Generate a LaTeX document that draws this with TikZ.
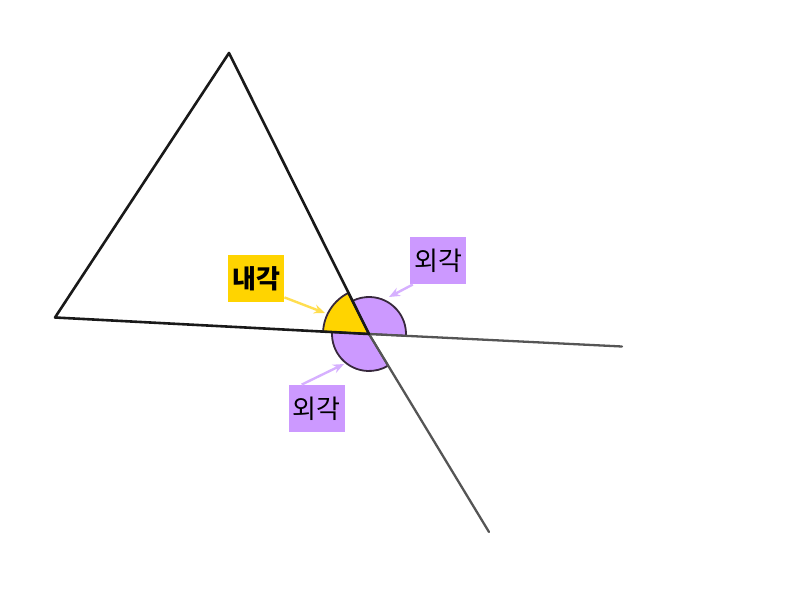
\documentclass[tikz,border=0pt]{standalone}
\usepackage{fontspec}
\newfontfamily\kr{Noto Sans CJK KR}
\usetikzlibrary{arrows.meta}
\definecolor{angyellow}{RGB}{255,212,0}
\definecolor{angpurple}{RGB}{204,153,255}
\definecolor{arrpurple}{RGB}{214,176,255}
\definecolor{arryellow}{RGB}{255,222,80}
\definecolor{outline}{RGB}{55,40,60}
\definecolor{extgray}{RGB}{85,85,85}
\tikzset{
  tri/.style={line width=2.6pt, black!90, line join=round, line cap=round},
  ext/.style={line width=2.3pt, extgray, line cap=round},
  sector/.style={line width=1.8pt, draw=outline, line join=round},
  lbl/.style={font=\kr\fontsize{26}{28}\selectfont, inner sep=0pt, minimum width=56pt, minimum height=47pt, text=black},
  pointer/.style={line width=2.4pt, -{Stealth[length=11pt,width=9pt]}}
}
\begin{document}
\begin{tikzpicture}[x=1pt,y=1pt]
\useasboundingbox (0,0) rectangle (800,598);
\coordinate (A) at (55,280.5);
\coordinate (B) at (229,545);
\coordinate (C) at (369,264);
\coordinate (D) at (622,251.5);
\coordinate (E) at (489,66);
% sectors
\filldraw[sector, fill=angyellow] (C) -- ++(116.5:46) arc[start angle=116.5, end angle=177, radius=46] -- cycle;
\filldraw[sector, fill=angpurple] (C) -- ++(-2.8:37) arc[start angle=-2.8, end angle=116.5, radius=37] -- cycle;
\filldraw[sector, fill=angpurple] (C) -- ++(177:37) arc[start angle=177, end angle=301.2, radius=37] -- cycle;
% lines
\draw[ext] (C) -- (D);
\draw[ext] (C) -- (E);
\draw[tri] (A) -- (B) -- (C) -- cycle;
% labels
\node[lbl, fill=angyellow, font=\kr\bfseries\fontsize{26}{28}\selectfont] (naegak) at (256.2,319.3) {내각};
\node[lbl, fill=angpurple] (oegakup) at (438,337.2) {외각};
\node[lbl, fill=angpurple] (oegakdn) at (316.7,189.7) {외각};
\coordinate (tipY) at (325,285);
\coordinate (tipU) at (389,301);
\coordinate (tipD) at (344,234);
\draw[pointer, arryellow] ([yshift=5pt]naegak.south east) -- (tipY);
\draw[pointer, arrpurple] ([xshift=3pt]oegakup.south west) -- (tipU);
\draw[pointer, arrpurple] ([xshift=-15pt]oegakdn.north) -- (tipD);
\end{tikzpicture}
\end{document}
